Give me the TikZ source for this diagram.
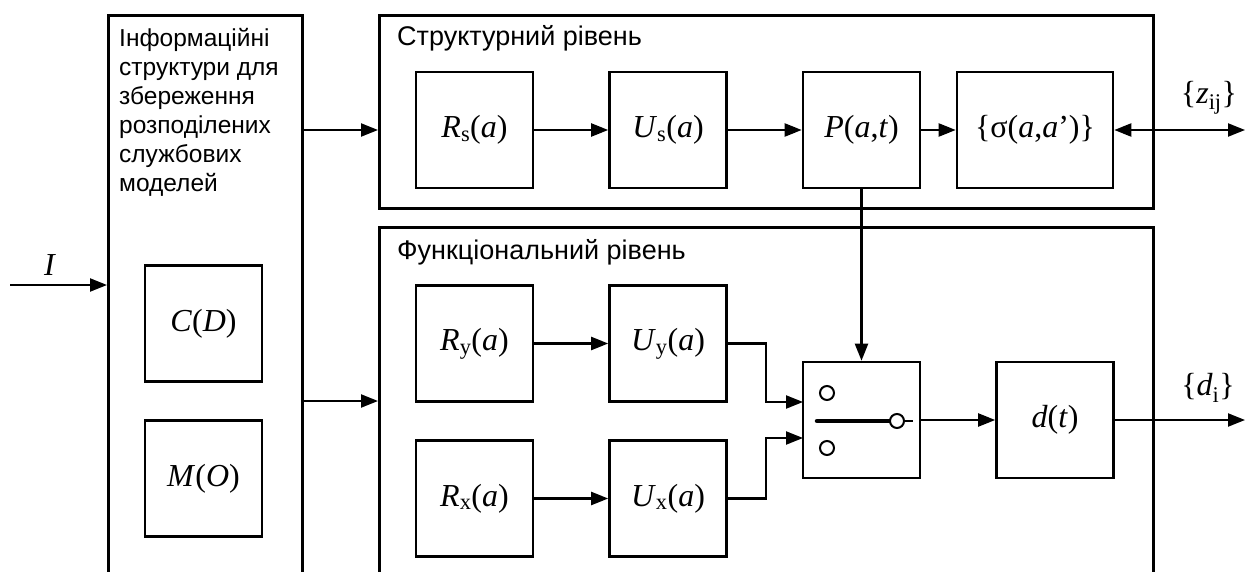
\documentclass[tikz,border=0pt]{standalone}
\usepackage{fontspec}
\setmainfont{Liberation Serif}
\setsansfont{Liberation Sans}
\newfontfamily\lbsans{Liberation Sans}
\newfontfamily\lbserif{Liberation Serif}
\usetikzlibrary{arrows.meta}
\begin{document}
\begin{tikzpicture}[x=1pt,y=-1pt,
  blk/.style={draw,line width=2.6pt,minimum width=117pt,minimum height=116pt,inner sep=0pt,font=\lbserif\fontsize{32}{34}\selectfont},
  frame/.style={draw,line width=2.6pt,inner sep=0pt,anchor=north west},
  ttl/.style={anchor=west,inner sep=0pt,font=\lbsans\fontsize{27}{30}\selectfont},
  lbl/.style={inner sep=0pt,font=\lbserif\fontsize{32}{34}\selectfont},
  arr/.style={line width=2.2pt,-{Triangle[length=17pt,width=13pt]}},
  arrb/.style={line width=2.2pt,{Triangle[length=17pt,width=13pt]}-{Triangle[length=17pt,width=13pt]}},
  ln/.style={line width=2.2pt}]
\useasboundingbox (0,0) rectangle (1247,572);
% frames
\node[frame,minimum width=194pt,minimum height=620pt] (left) at (107,14) {};
\node[frame,minimum width=774pt,minimum height=193pt] (struct) at (378,14) {};
\node[frame,minimum width=774pt,minimum height=400pt] (func) at (378,226) {};
% texts of frames
\node[anchor=north west,inner sep=0pt,align=left,font=\lbsans\fontsize{24.5}{29}\selectfont] (lefttxt) at (119,28)
  {Інформаційні\\структури для\\збереження\\розподілених\\службових\\моделей};
\node[ttl] (sttl) at (397,38) {Структурний рівень};
\node[ttl] (fttl) at (397,252) {Функціональний рівень};
% blocks
\node[blk] (CD) at (203.5,323.5) {\textit{C}(\textit{D})};
\node[blk] (MO) at (203.5,478.5) {\textit{M}(\textit{O})};
\node[blk] (Rs) at (474.5,130) {\textit{R}\textsubscript{s}(\textit{a})};
\node[blk] (Us) at (668,130) {\textit{U}\textsubscript{s}(\textit{a})};
\node[blk] (P) at (861.5,130) {\textit{P}(\textit{a},\textit{t})};
\node[blk,minimum width=156pt] (sig) at (1035,130) {\{σ(\textit{a},\textit{a}’)\}};
\node[blk] (Ry) at (474.5,343.5) {\textit{R}\textsubscript{y}(\textit{a})};
\node[blk] (Uy) at (668,343.5) {\textit{U}\textsubscript{y}(\textit{a})};
\node[blk] (Rx) at (474.5,498.5) {\textit{R}\textsubscript{x}(\textit{a})};
\node[blk] (Ux) at (668,498.5) {\textit{U}\textsubscript{x}(\textit{a})};
\node[blk] (sw) at (861.5,420) {};
\node[blk] (dt) at (1055,420) {\textit{d}(\textit{t})};
% switch internals
\draw[line width=2pt] (827,393) circle (7pt);
\draw[line width=2pt] (827,448) circle (7pt);
\draw[line width=4.5pt,line cap=round] (817,421) -- (890,421);
\draw[line width=2pt,fill=white] (897,421) circle (7pt);
\draw[line width=2pt] (904,421) -- (913,421);
% labels
\node[lbl] (Ilbl) at (50,265) {\textit{I}};
\node[lbl] (zlbl) at (1209,98) {\{\textit{z}\textsubscript{ij}\}};
\node[lbl] (dlbl) at (1208,388) {\{\textit{d}\textsubscript{i}\}};
% coordinates
\coordinate (Iin) at (10,285);
\coordinate (zout) at (1245,130);
\coordinate (dout) at (1245,420);
\coordinate (yf) at (0,401);
\coordinate (in1) at (803,402);
\coordinate (in2) at (803,438);
% connectors
\draw[arr] (Iin) -- (Iin -| left.west);
\draw[arr] (left.east |- Rs) -- (struct.west |- Rs);
\draw[arr] (left.east |- yf) -- (func.west |- yf);
\draw[arr] (Rs) -- (Us);
\draw[arr] (Us) -- (P);
\draw[arr] (P) -- (sig);
\draw[arrb] (sig.east) -- (zout);
\draw[arr] (P.south) -- (sw.north);
\draw[arr] (Ry) -- (Uy);
\draw[arr] (Rx) -- (Ux);
\draw[arr] (Uy.east) -- ++(38,0) |- (in1);
\draw[arr] (Ux.east) -- ++(38,0) |- (in2);
\draw[arr] (sw.east) -- (dt.west);
\draw[arr] (dt.east) -- (dout);
\end{tikzpicture}
\end{document}
